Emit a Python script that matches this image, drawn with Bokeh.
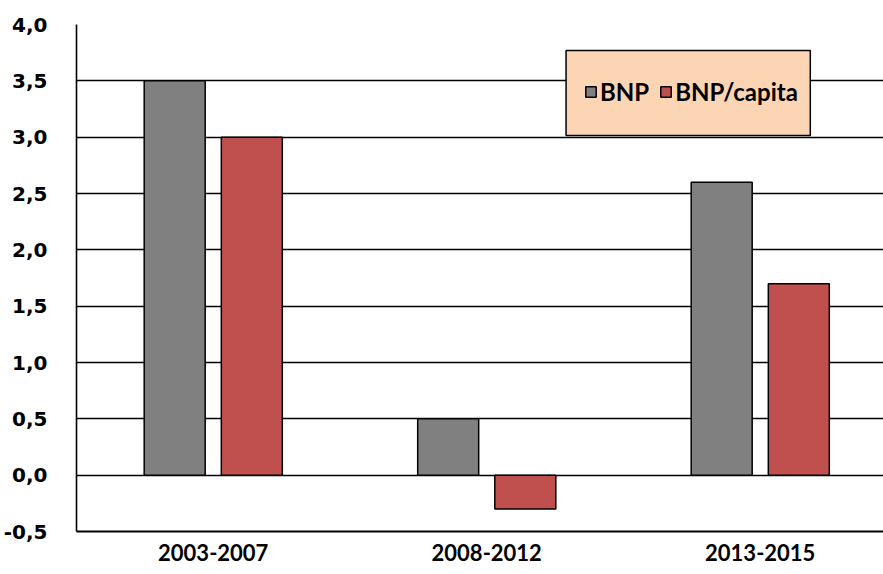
from bokeh.plotting import figure
from bokeh.models import (ColumnDataSource, Range1d, FixedTicker, Legend, LegendItem,
                          BoxAnnotation)
from bokeh.embed import file_html
from bokeh.resources import INLINE

# Growth figures per period
periods = ["2003-2007", "2008-2012", "2013-2015"]
bnp = [3.5, 0.5, 2.6]
bnp_per_capita = [3.0, -0.3, 1.7]

y_ticks = [-0.5, 0.0, 0.5, 1.0, 1.5, 2.0, 2.5, 3.0, 3.5, 4.0]
y_tick_labels = ["-0,5", "0,0", "0,5", "1,0", "1,5", "2,0", "2,5", "3,0", "3,5", "4,0"]

series_names = ["BNP", "BNP/capita"]
colors = ["#808080", "#C0504D"]
legend_fill = "#FCD5B5"

centers = [i + 0.5 for i in range(len(periods))]
bar_w = 0.223
offset = 0.141

src_bnp = ColumnDataSource(dict(x=[c - offset for c in centers], top=bnp))
src_cap = ColumnDataSource(dict(x=[c + offset for c in centers], top=bnp_per_capita))

W, H = 883, 574
left_border = 76
cat_px = 273.5
x_end = (W - left_border) / cat_px

p = figure(width=W, height=H, output_backend="svg", toolbar_location=None,
           x_range=Range1d(0, x_end), y_range=Range1d(-0.5, 4.0),
           min_border_left=left_border, min_border_right=0,
           min_border_top=24, min_border_bottom=43)
p.outline_line_color = None
p.background_fill_color = "white"
p.border_fill_color = "white"

r1 = p.vbar(x="x", top="top", bottom=0, width=bar_w, source=src_bnp,
            fill_color=colors[0], line_color="black", line_width=1.5)
r2 = p.vbar(x="x", top="top", bottom=0, width=bar_w, source=src_cap,
            fill_color=colors[1], line_color="black", line_width=1.5)

# x axis: period names under each group
p.xaxis.ticker = FixedTicker(ticks=centers)
p.xaxis.major_label_overrides = {c: lab for c, lab in zip(centers, periods)}
p.xaxis.major_tick_line_color = None
p.xaxis.minor_tick_line_color = None
p.xaxis.axis_line_color = "black"
p.xaxis.axis_line_width = 2.2
p.xaxis.major_label_standoff = 6
p.xaxis.major_label_text_font = "Lato"
p.xaxis.major_label_text_font_style = "bold"
p.xaxis.major_label_text_font_size = "22px"
p.xaxis.major_label_text_color = "black"
p.xgrid.grid_line_color = None

# y axis with comma decimals
p.yaxis.ticker = FixedTicker(ticks=y_ticks)
p.yaxis.major_label_overrides = {t: lab for t, lab in zip(y_ticks, y_tick_labels)}
p.yaxis.major_tick_line_color = None
p.yaxis.minor_tick_line_color = None
p.yaxis.axis_line_color = "black"
p.yaxis.axis_line_width = 1.6
p.yaxis.major_label_standoff = 23
p.yaxis.major_label_text_font = "DejaVu Sans"
p.yaxis.major_label_text_font_style = "bold"
p.yaxis.major_label_text_font_size = "20px"
p.yaxis.major_label_text_color = "black"
p.ygrid.ticker = FixedTicker(ticks=y_ticks)
p.ygrid.grid_line_color = "black"
p.ygrid.grid_line_width = 1.4

# legend panel
box = BoxAnnotation(left=1.79, right=2.683, bottom=3.015, top=3.77,
                    fill_color=legend_fill, fill_alpha=1.0,
                    line_color="black", line_width=1.5, line_alpha=1.0)
p.add_layout(box)

legend = Legend(items=[LegendItem(label=series_names[0], renderers=[r1]),
                       LegendItem(label=series_names[1], renderers=[r2])],
                orientation="horizontal", location=(508, 425),
                background_fill_alpha=0, border_line_color=None,
                padding=0, margin=0, spacing=10,
                glyph_width=13, glyph_height=13, label_standoff=3,
                label_height=13,
                label_text_font="Lato", label_text_font_style="bold",
                label_text_font_size="24px", label_text_color="black")
p.add_layout(legend)

open("out.html", "w").write(file_html(p, INLINE))
